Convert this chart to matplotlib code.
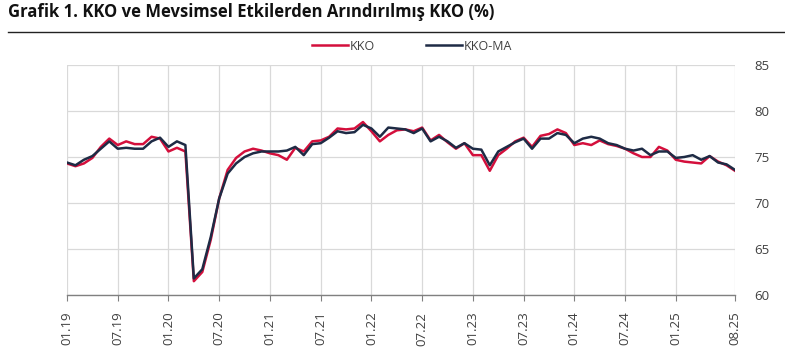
import matplotlib.pyplot as plt
import numpy as np

plt.rcParams['font.family'] = ['Open Sans', 'DejaVu Sans']

# monthly, 01.2019 - 08.2025
kko = [74.3, 74.0, 74.3, 74.9, 76.1, 77.0, 76.3, 76.7, 76.4, 76.4, 77.2, 77.0,
       75.6, 76.0, 75.6, 61.5, 62.5, 66.0, 70.5, 73.6, 74.9, 75.6, 75.9, 75.7,
       75.4, 75.2, 74.7, 76.0, 75.6, 76.7, 76.8, 77.2, 78.1, 78.0, 78.1, 78.8,
       77.8, 76.7, 77.4, 77.9, 78.0, 77.8, 78.2, 76.8, 77.4, 76.6, 75.9, 76.5,
       75.2, 75.2, 73.5, 75.2, 75.9, 76.7, 77.1, 76.1, 77.3, 77.5, 78.0, 77.6,
       76.3, 76.5, 76.3, 76.8, 76.4, 76.2, 75.9, 75.4, 75.0, 75.0, 76.1, 75.7,
       74.7, 74.5, 74.4, 74.3, 75.1, 74.5, 74.1, 73.5]
kko_ma = [74.4, 74.1, 74.7, 75.1, 75.9, 76.7, 75.9, 76.0, 75.9, 75.9, 76.7, 77.1,
          76.1, 76.7, 76.3, 61.8, 62.8, 66.3, 70.5, 73.2, 74.3, 75.0, 75.4, 75.6,
          75.6, 75.6, 75.7, 76.1, 75.2, 76.4, 76.5, 77.1, 77.8, 77.6, 77.7, 78.5,
          78.1, 77.2, 78.2, 78.1, 78.0, 77.6, 78.1, 76.7, 77.2, 76.7, 76.0, 76.5,
          75.9, 75.8, 74.1, 75.6, 76.1, 76.6, 77.0, 75.9, 77.0, 77.0, 77.6, 77.4,
          76.5, 77.0, 77.2, 77.0, 76.5, 76.3, 75.9, 75.7, 75.9, 75.2, 75.6, 75.6,
          74.9, 75.0, 75.2, 74.7, 75.1, 74.4, 74.2, 73.6]

tick_labels = ['01.19', '07.19', '01.20', '07.20', '01.21', '07.21', '01.22',
               '07.22', '01.23', '07.23', '01.24', '07.24', '01.25', '08.25']
tick_idx = list(range(0, 73, 6)) + [79]
y_ticks = [60, 65, 70, 75, 80, 85]

red = '#d40f3c'
navy = '#1e2b45'
grid_c = '#d9d9d9'
text_c = '#404040'

fig = plt.figure(figsize=(7.85, 3.57), dpi=100)
ax = fig.add_axes([67 / 785, 1 - 295 / 357, (735 - 67) / 785, (295 - 65) / 357])

x = np.arange(len(kko))
ax.plot(x, kko, color=red, lw=1.8, label='KKO', zorder=3)
ax.plot(x, kko_ma, color=navy, lw=1.8, label='KKO-MA', zorder=4)

ax.set_xlim(0, len(kko) - 1)
ax.set_ylim(60, 85)
ax.set_yticks(y_ticks)
ax.yaxis.tick_right()
ax.tick_params(axis='y', length=0, pad=14, labelsize=9.5, labelcolor=text_c)
ax.set_xticks(tick_idx)
ax.set_xticklabels(tick_labels, rotation=90, fontsize=9.5, color=text_c)
ax.tick_params(axis='x', length=4, color='#808080', pad=8)

ax.grid(True, color=grid_c, lw=0.9, zorder=0)
for s in ['left', 'right', 'top']:
    ax.spines[s].set_visible(False)
ax.spines['bottom'].set_color('#808080')
ax.spines['bottom'].set_linewidth(1.0)

leg = fig.legend(loc='center', bbox_to_anchor=(412 / 785, 1 - 46 / 357), ncol=2,
                 frameon=False, fontsize=9, handlelength=2.9, columnspacing=4.1,
                 handletextpad=0.1)
for t in leg.get_texts():
    t.set_color(text_c)

fig.text(8 / 785, 1 - 12 / 357, 'Grafik 1. KKO ve Mevsimsel Etkilerden Arındırılmış KKO (%)',
         fontsize=12, fontweight='bold', va='center', ha='left', color='#111111')
fig.add_artist(plt.Line2D([8 / 785, 1.0], [1 - 32 / 357, 1 - 32 / 357],
                          color='#222222', lw=1.0))

fig.savefig('out.png', dpi=100)
